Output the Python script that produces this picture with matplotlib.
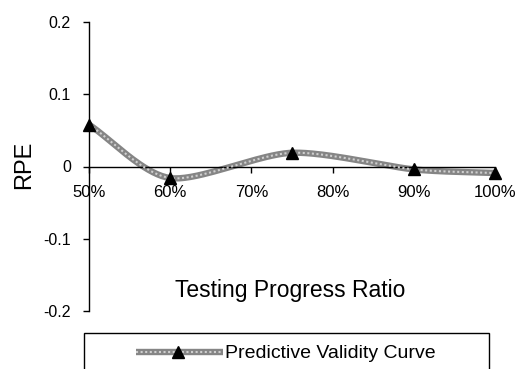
import numpy as np
import matplotlib
matplotlib.use("Agg")
import matplotlib.pyplot as plt
from matplotlib.patches import Rectangle
from matplotlib.lines import Line2D

plt.rcParams['font.family'] = ['Liberation Sans', 'DejaVu Sans']

# Testing progress ratio and relative prediction error
progress = [0.50, 0.60, 0.75, 0.90, 1.00]
rpe = [0.058, -0.016, 0.019, -0.004, -0.009]
x_ticks = [0.5, 0.6, 0.7, 0.8, 0.9, 1.0]
x_labels = ['50%', '60%', '70%', '80%', '90%', '100%']
y_ticks = [-0.2, -0.1, 0.0, 0.1, 0.2]
y_labels = ['-0.2', '-0.1', '0', '0.1', '0.2']
series_name = 'Predictive Validity Curve'


def smooth_curve(xs, ys, n=40, tension=0.8):
    """Cardinal spline through the points (normalised to axis ranges)."""
    xs = np.asarray(xs, float)
    ys = np.asarray(ys, float)
    sx, sy = 0.5, 0.4
    px = np.concatenate([[2 * xs[0] - xs[1]], xs, [2 * xs[-1] - xs[-2]]]) / sx
    py = np.concatenate([[2 * ys[0] - ys[1]], ys, [2 * ys[-1] - ys[-2]]]) / sy
    out_x, out_y = [], []
    t = np.linspace(0, 1, n)
    for i in range(1, len(px) - 2):
        p0, p1, p2, p3 = [np.array([px[j], py[j]]) for j in range(i - 1, i + 3)]
        m1 = (p2 - p0) / 2 * tension
        m2 = (p3 - p1) / 2 * tension
        h00 = 2 * t**3 - 3 * t**2 + 1
        h10 = t**3 - 2 * t**2 + t
        h01 = -2 * t**3 + 3 * t**2
        h11 = t**3 - t**2
        seg = (np.outer(h00, p1) + np.outer(h10, m1) +
               np.outer(h01, p2) + np.outer(h11, m2))
        out_x.extend(seg[:, 0] * sx)
        out_y.extend(seg[:, 1] * sy)
    return np.array(out_x), np.array(out_y)


W, H = 527, 369
fig = plt.figure(figsize=(W / 100, H / 100), dpi=100)
ax = fig.add_axes([89 / W, 1 - 311 / H, (495 - 89) / W, (311 - 22) / H])

cx, cy = smooth_curve(progress, rpe)
ax.plot(cx, cy, color='#858585', lw=4.6, solid_capstyle='butt', zorder=2)
ax.plot(cx, cy, color='#cfcfcf', lw=1.5, dashes=(1, 1.2), zorder=3)
ax.plot(progress, rpe, linestyle='none', marker='^', color='black',
        markersize=8, zorder=4, clip_on=False)

ax.set_xlim(0.5, 1.0)
ax.set_ylim(-0.2, 0.2)
ax.set_xticks(x_ticks)
ax.set_xticklabels(x_labels)
ax.set_yticks(y_ticks)
ax.set_yticklabels(y_labels)

ax.spines['top'].set_visible(False)
ax.spines['right'].set_visible(False)
ax.spines['bottom'].set_position(('data', 0))
for s in ('left', 'bottom'):
    ax.spines[s].set_linewidth(1.0)
    ax.spines[s].set_color('black')

ax.tick_params(axis='both', direction='out', length=4, width=1,
               colors='black')
ax.tick_params(axis='x', pad=9, labelsize=12)
ax.tick_params(axis='y', pad=9, labelsize=11.5)

fig.text(24 / W, 1 - 165 / H, 'RPE', fontsize=17, rotation=90,
         ha='center', va='center')
fig.text(290 / W, 1 - 290 / H, 'Testing Progress Ratio', fontsize=16.5,
         ha='center', va='center')

# Legend box (runs off the lower edge of the figure)
fig.add_artist(Rectangle((84 / W, -0.1), (489 - 84) / W, 0.1 + (1 - 333 / H),
                         transform=fig.transFigure, fill=False,
                         edgecolor='black', lw=1.0, clip_on=False))
ly = 1 - 352 / H
lx0, lx1 = 136 / W, 223 / W
fig.add_artist(Line2D([lx0, lx1], [ly, ly], transform=fig.transFigure,
                      color='#858585', lw=4.6, solid_capstyle='butt'))
fig.add_artist(Line2D([lx0, lx1], [ly, ly], transform=fig.transFigure,
                      color='#cfcfcf', lw=1.5, dashes=(1, 1.2)))
fig.add_artist(Line2D([178 / W], [ly], transform=fig.transFigure,
                      marker='^', color='black', markersize=8, linestyle='none'))
fig.text(225 / W, ly - 0.004, series_name, fontsize=14, ha='left',
         va='center')

fig.savefig('out.png', dpi=100)
